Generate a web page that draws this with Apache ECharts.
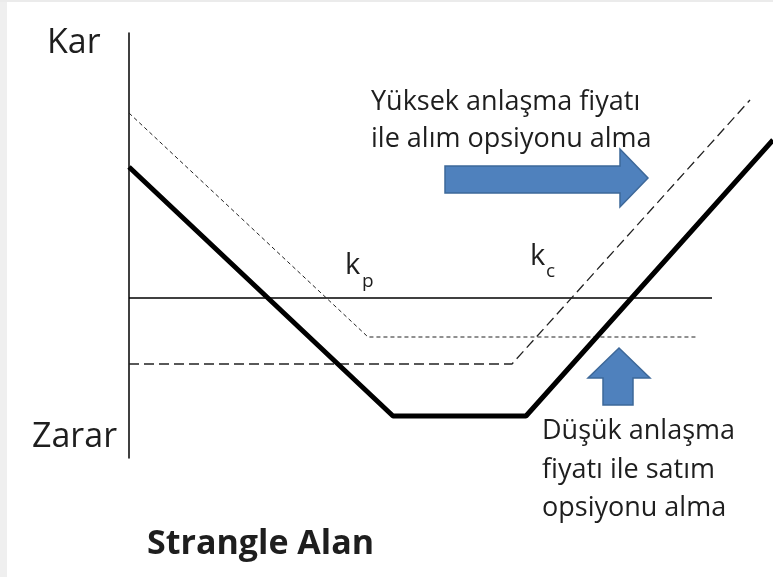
<!DOCTYPE html>
<html>
<head>
<meta charset="utf-8">
<script src="https://cdn.jsdelivr.net/npm/echarts@6/dist/echarts.min.js"></script>
<style>
  html, body { margin: 0; padding: 0; background: #fff; }
  #main { width: 773px; height: 577px; }
</style>
</head>
<body>
<div id="main"></div>
<script>
// kar/zarar diyagrami (x: fiyat, y: kar)
var strangleLine = [[0, 13.1], [26.4, -11.8], [39.7, -11.8], [64.4, 15.8]];
var callLine = [[0, -6.6], [38.3, -6.6], [62.1, 19.8]];
var putLine = [[0, 18.5], [23.9, -3.9], [56.8, -3.9]];
var zeroLine = [[0, 0], [58.3, 0]];

var yLabels = ['Kar', 'Zarar'];
var strikeLabels = ['p', 'c'];
var noteCall = 'Yüksek anlaşma fiyatı\nile alım opsiyonu alma';
var notePut = 'Düşük anlaşma\nfiyatı ile satım\nopsiyonu alma';

var font = '"Open Sans", "Noto Sans", sans-serif';
var txt = '#1e1e1e';

var chartContainer = document.getElementById('main');
var myChart = echarts.init(chartContainer);

function line(name, data, width, type, color) {
	return {
		name: name,
		type: 'line',
		data: data,
		symbol: 'none',
		silent: true,
		lineStyle: { color: color, width: width, type: type },
		z: 3
	};
}

myChart.setOption({
	animation: false,
	backgroundColor: '#fff',
	title: {
		text: 'Strangle Alan',
		left: 147,
		top: 527,
		padding: 0,
		textStyle: { fontFamily: font, fontSize: 34, fontWeight: 'bold', color: txt }
	},
	grid: { left: 129, right: 0, top: 33, bottom: 119 },
	xAxis: {
		type: 'value', min: 0, max: 64.4, show: false
	},
	yAxis: {
		type: 'value', min: -16, max: 26.5,
		axisLine: { show: true, lineStyle: { color: '#000', width: 1.5 } },
		axisTick: { show: false },
		axisLabel: { show: false },
		splitLine: { show: false }
	},
	series: [
		line('sifir', zeroLine, 1.5, 'solid', '#000'),
		line('satim', putLine, 1, [4, 3], '#222'),
		line('alim', callLine, 1.3, [10, 5], '#222'),
		line('strangle', strangleLine, 5, 'solid', '#000')
	],
	graphic: [
		// sol kenar
		{ type: 'rect', shape: { x: 0, y: 0, width: 7, height: 577 }, style: { fill: '#efefef' }, silent: true },
		{ type: 'rect', shape: { x: 0, y: 0, width: 773, height: 2 }, style: { fill: '#ebebeb' }, silent: true },
		{ type: 'text', style: { x: 47, y: 43, text: yLabels[0], font: '34px ' + font, fill: txt, verticalAlign: 'middle' } },
		{ type: 'text', style: { x: 32, y: 437, text: yLabels[1], font: '34px ' + font, fill: txt, verticalAlign: 'middle' } },
		// k_p, k_c
		{ type: 'text', style: { x: 345, y: 266, text: 'k', font: '29px ' + font, fill: txt, verticalAlign: 'middle' } },
		{ type: 'text', style: { x: 362, y: 282, text: strikeLabels[0], font: '19px ' + font, fill: txt, verticalAlign: 'middle' } },
		{ type: 'text', style: { x: 530, y: 257, text: 'k', font: '29px ' + font, fill: txt, verticalAlign: 'middle' } },
		{ type: 'text', style: { x: 546, y: 272, text: strikeLabels[1], font: '19px ' + font, fill: txt, verticalAlign: 'middle' } },
		// aciklamalar
		{ type: 'text', style: { x: 371, y: 121, text: noteCall, font: '27px ' + font, fill: txt, verticalAlign: 'middle', lineHeight: 37 } },
		{ type: 'text', style: { x: 542, y: 470, text: notePut, font: '27px ' + font, fill: txt, verticalAlign: 'middle', lineHeight: 38.5 } },
		// oklar
		{
			type: 'polygon',
			shape: { points: [[445, 166], [620, 166], [620, 149], [648, 178], [620, 207], [620, 193], [445, 193]] },
			style: { fill: '#4f81bd', stroke: '#3d6899', lineWidth: 1.5 }
		},
		{
			type: 'polygon',
			shape: { points: [[619, 348], [650, 378], [633, 378], [633, 405], [603, 405], [603, 378], [588, 378]] },
			style: { fill: '#4f81bd', stroke: '#3d6899', lineWidth: 1.5 }
		}
	]
});
</script>
</body>
</html>
